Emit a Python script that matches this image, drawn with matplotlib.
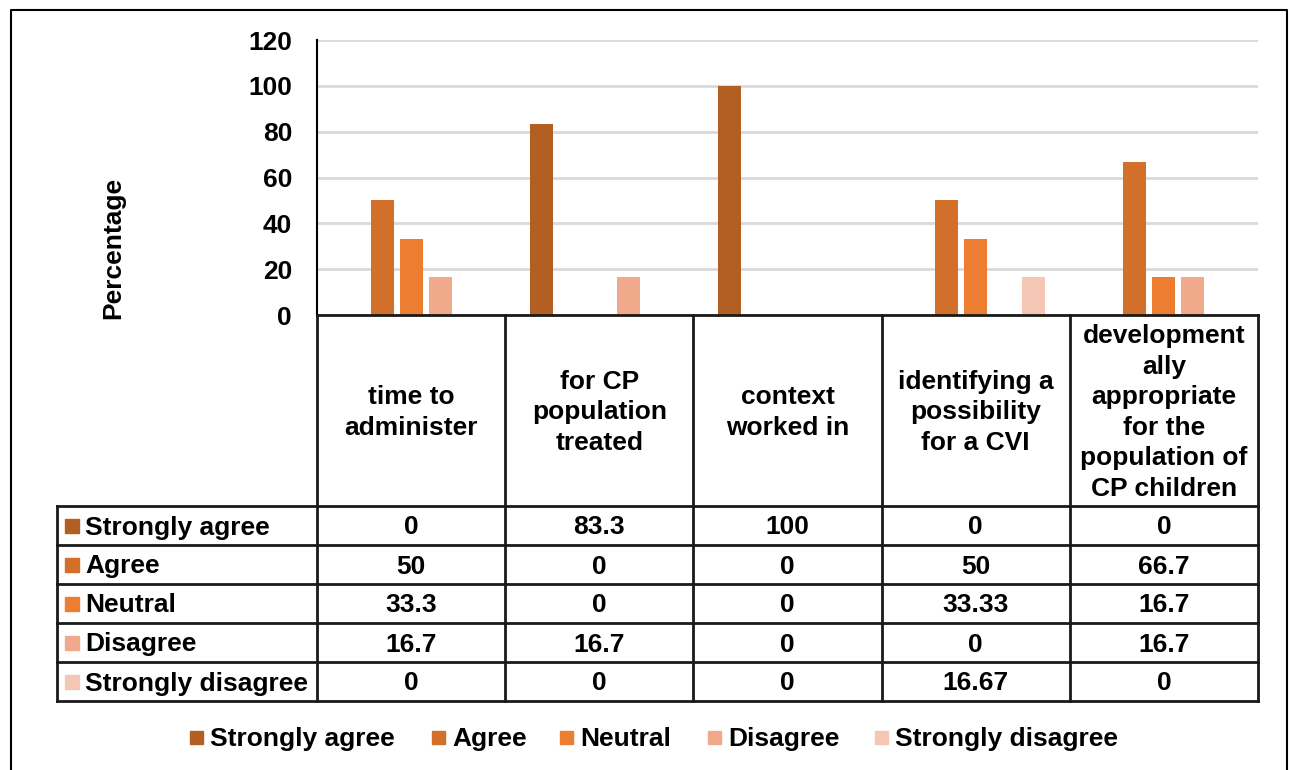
import matplotlib.pyplot as plt
from matplotlib.patches import Rectangle

# data
categories = ["time to\nadminister", "for CP\npopulation\ntreated", "context\nworked in",
              "identifying a\npossibility\nfor a CVI",
              "development\nally\nappropriate\nfor the\npopulation of\nCP children"]
series = ["Strongly agree", "Agree", "Neutral", "Disagree", "Strongly disagree"]
strongly_agree = [0, 83.3, 100, 0, 0]
agree = [50, 0, 0, 50, 66.7]
neutral = [33.3, 0, 0, 33.33, 16.7]
disagree = [16.7, 16.7, 0, 0, 16.7]
strongly_disagree = [0, 0, 0, 16.67, 0]
values = [strongly_agree, agree, neutral, disagree, strongly_disagree]
colors = ["#B35E22", "#D2702B", "#ED7D31", "#F0A98A", "#F4C7B5"]

plt.rcParams['font.family'] = ['Liberation Sans', 'DejaVu Sans']
plt.rcParams['font.weight'] = 'bold'
FS = 19

W, H = 1290, 770
fig = plt.figure(figsize=(W / 100, H / 100), dpi=100)

# pixel layout helpers
X0, X1 = 317, 1258
Y_TOP, Y_ZERO = 40, 315
ax = fig.add_axes([X0 / W, 1 - Y_ZERO / H, (X1 - X0) / W, (Y_ZERO - Y_TOP) / H])

n = len(categories)
bw = 0.122
step = 0.154
for i, (name, vals) in enumerate(zip(series, values)):
    xs = [c + (i - 2) * step for c in range(n)]
    ax.bar(xs, vals, width=bw, color=colors[i], label=name, zorder=3)

ax.set_xlim(-0.5, n - 0.5)
ax.set_ylim(0, 120)
ax.set_yticks(range(0, 121, 20))
ax.tick_params(axis='y', length=0, pad=18, labelsize=FS)
ax.set_xticks([])
ax.grid(axis='y', color='#D9D9D9', linewidth=2, zorder=0)
for s in ['top', 'right', 'bottom']:
    ax.spines[s].set_visible(False)
ax.spines['left'].set_linewidth(1.5)
for lab in ax.get_yticklabels():
    lab.set_fontweight('bold')

# overlay in pixel coordinates for table, legend, border
ov = fig.add_axes([0, 0, 1, 1], zorder=5)
ov.set_xlim(0, W)
ov.set_ylim(H, 0)
ov.axis('off')
ov.patch.set_alpha(0)

lc = '#1a1a1a'
lw = 2
col_x = [X0 + (X1 - X0) * k / n for k in range(n + 1)]
TL = 57
HDR_BOT = 506
row_h = 39
row_y = [HDR_BOT + k * row_h for k in range(len(series) + 1)]

# header cells
ov.plot([X0, X1], [Y_ZERO, Y_ZERO], color=lc, lw=lw)
for x in col_x:
    ov.plot([x, x], [Y_ZERO, row_y[-1]], color=lc, lw=lw)
for y in row_y:
    ov.plot([TL, X1], [y, y], color=lc, lw=lw)
ov.plot([TL, TL], [HDR_BOT, row_y[-1]], color=lc, lw=lw)

for k, cat in enumerate(categories):
    cx = (col_x[k] + col_x[k + 1]) / 2
    ov.text(cx, (Y_ZERO + HDR_BOT) / 2 + 2, cat, ha='center', va='center',
            fontsize=FS, fontweight='bold', linespacing=1.34)

for r, (name, vals) in enumerate(zip(series, values)):
    cy = (row_y[r] + row_y[r + 1]) / 2 + 2
    ov.add_patch(Rectangle((65, cy - 9), 14, 14, color=colors[r]))
    ov.text(85, cy, name, ha='left', va='center', fontsize=FS, fontweight='bold')
    for k, v in enumerate(vals):
        cx = (col_x[k] + col_x[k + 1]) / 2
        ov.text(cx, cy, f"{v:g}", ha='center', va='center', fontsize=FS, fontweight='bold')

# y axis title
ov.text(113, 248, "Percentage", rotation=90, ha='center', va='center',
        fontsize=FS, fontweight='bold')

# legend
leg_x = [190, 432, 560, 708, 875]
for i, name in enumerate(series):
    ov.add_patch(Rectangle((leg_x[i], 731), 13, 13, color=colors[i]))
    ov.text(leg_x[i] + 20, 739, name, ha='left', va='center', fontsize=FS, fontweight='bold')

# outer border
ov.plot([11, 11, 1287, 1287], [H, 10, 10, H], color='black', lw=1.5)

fig.savefig("out.png", dpi=100)
